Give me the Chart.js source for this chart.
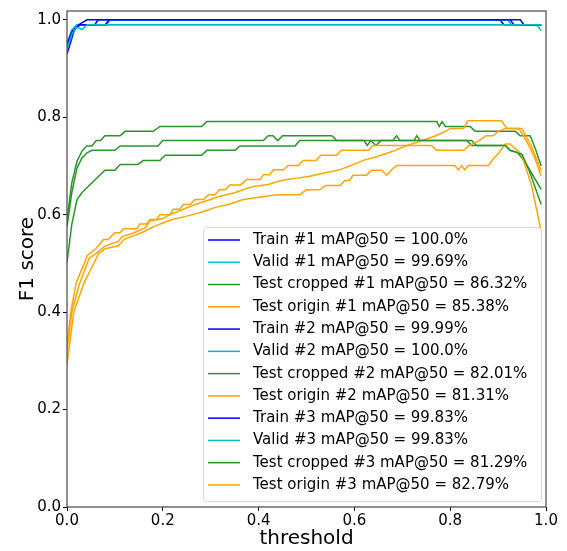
<!DOCTYPE html>
<html lang="en">
<head>
  <meta charset="UTF-8">
  <title>F1 score vs threshold</title>
  <script src="https://cdn.jsdelivr.net/npm/chart.js"></script>
  <style>
    html, body { margin: 0; padding: 0; background: #fff; }
  </style>
</head>
<body>
  <canvas id="myChart" width="567" height="551"></canvas>

  <script>
    // axis ticks
    const xTicks = [0, 0.2, 0.4, 0.6, 0.8, 1.0];
    const yTicks = [0, 0.2, 0.4, 0.6, 0.8, 1.0];

    // [threshold, F1] pairs
    const train1 = [[0,0.93],[0.008,0.955],[0.017,0.985],[0.03,0.993],[0.042,1.0],[0.904,1.0],[0.912,0.99],[0.99,0.99]];
    const valid1 = [[0,0.945],[0.01,0.975],[0.02,0.99],[0.98,0.99],[0.99,0.978]];
    const cropped1 = [[0,0.59],[0.01,0.665],[0.021,0.71],[0.031,0.73],[0.041,0.741],[0.052,0.741],[0.061,0.752],[0.07,0.752],
      [0.079,0.762],[0.111,0.762],[0.121,0.771],[0.18,0.771],[0.194,0.781],[0.281,0.781],[0.292,0.791],[0.772,0.791],
      [0.777,0.781],[0.783,0.791],[0.79,0.781],[0.842,0.781],[0.852,0.771],[0.936,0.771],[0.946,0.762],[0.967,0.762],
      [0.978,0.735],[0.99,0.70]];
    const origin1 = [[0,0.32],[0.01,0.40],[0.025,0.455],[0.046,0.51],[0.06,0.52],[0.08,0.536],[0.107,0.545],[0.115,0.555],
      [0.14,0.563],[0.163,0.573],[0.173,0.587],[0.2,0.592],[0.215,0.600],[0.24,0.61],[0.26,0.618],[0.28,0.625],
      [0.3,0.631],[0.319,0.638],[0.35,0.645],[0.37,0.652],[0.389,0.658],[0.42,0.662],[0.44,0.668],[0.459,0.672],
      [0.48,0.675],[0.507,0.679],[0.53,0.684],[0.55,0.688],[0.569,0.692],[0.59,0.70],[0.62,0.712],[0.65,0.72],
      [0.68,0.73],[0.71,0.742],[0.74,0.752],[0.77,0.762],[0.79,0.771],[0.80,0.777],[0.828,0.777],[0.837,0.793],
      [0.907,0.793],[0.918,0.777],[0.949,0.777],[0.97,0.74],[0.99,0.69]];

    const train2 = [[0,0.945],[0.01,0.97],[0.02,0.985],[0.03,0.99],[0.058,0.99],[0.065,1.0],[0.925,1.0],[0.933,0.99],[0.99,0.99]];
    const valid2 = [[0,0.95],[0.01,0.98],[0.025,0.99],[0.083,0.99],[0.09,1.0],[0.92,1.0],[0.928,0.99],[0.99,0.99]];
    const cropped2 = [[0,0.575],[0.01,0.645],[0.021,0.696],[0.031,0.716],[0.042,0.727],[0.052,0.732],[0.1,0.732],[0.111,0.741],
      [0.19,0.741],[0.2,0.752],[0.41,0.752],[0.42,0.762],[0.43,0.762],[0.44,0.752],[0.45,0.762],[0.553,0.762],
      [0.563,0.752],[0.62,0.752],[0.627,0.742],[0.634,0.752],[0.645,0.742],[0.655,0.752],[0.845,0.752],[0.855,0.742],
      [0.915,0.742],[0.925,0.732],[0.94,0.728],[0.955,0.71],[0.97,0.685],[0.99,0.652]];
    const origin2 = [[0,0.292],[0.014,0.40],[0.036,0.461],[0.066,0.52],[0.08,0.53],[0.107,0.536],[0.12,0.55],[0.14,0.557],
      [0.16,0.565],[0.18,0.575],[0.2,0.583],[0.22,0.59],[0.25,0.597],[0.28,0.605],[0.31,0.615],[0.34,0.622],
      [0.368,0.631],[0.438,0.641],[0.486,0.641],[0.50,0.651],[0.528,0.651],[0.54,0.66],[0.57,0.66],[0.58,0.67],
      [0.59,0.67],[0.597,0.681],[0.625,0.681],[0.636,0.691],[0.657,0.691],[0.667,0.681],[0.677,0.691],[0.688,0.701],
      [0.81,0.701],[0.817,0.692],[0.824,0.701],[0.83,0.692],[0.838,0.701],[0.88,0.701],[0.89,0.715],[0.9,0.725],
      [0.915,0.745],[0.925,0.745],[0.949,0.724],[0.97,0.66],[0.99,0.565]];

    const train3 = [[0,0.95],[0.01,0.975],[0.025,0.99],[0.08,0.99],[0.088,1.0],[0.946,1.0],[0.954,0.99],[0.99,0.99]];
    const valid3 = [[0,0.94],[0.01,0.97],[0.02,0.985],[0.031,0.98],[0.042,0.99],[0.99,0.99]];
    const cropped3 = [[0,0.502],[0.01,0.58],[0.021,0.631],[0.031,0.645],[0.079,0.691],[0.1,0.691],[0.111,0.703],[0.148,0.703],
      [0.159,0.711],[0.194,0.711],[0.205,0.722],[0.281,0.722],[0.292,0.732],[0.351,0.732],[0.361,0.741],[0.476,0.741],
      [0.486,0.752],[0.68,0.752],[0.688,0.762],[0.695,0.752],[0.725,0.752],[0.73,0.762],[0.737,0.752],[0.835,0.752],
      [0.845,0.742],[0.915,0.742],[0.925,0.732],[0.95,0.724],[0.965,0.69],[0.99,0.621]];
    const origin3 = [[0,0.33],[0.008,0.40],[0.019,0.46],[0.036,0.50],[0.042,0.516],[0.06,0.53],[0.076,0.549],[0.086,0.549],
      [0.1,0.563],[0.111,0.563],[0.118,0.571],[0.146,0.571],[0.152,0.581],[0.166,0.581],[0.173,0.590],[0.187,0.590],
      [0.194,0.600],[0.215,0.600],[0.222,0.611],[0.235,0.611],[0.243,0.621],[0.257,0.621],[0.267,0.631],[0.285,0.631],
      [0.295,0.641],[0.309,0.641],[0.318,0.651],[0.33,0.651],[0.34,0.661],[0.362,0.661],[0.375,0.672],[0.403,0.672],
      [0.41,0.682],[0.423,0.682],[0.431,0.692],[0.452,0.692],[0.462,0.701],[0.483,0.701],[0.493,0.711],[0.52,0.711],
      [0.53,0.722],[0.563,0.722],[0.573,0.732],[0.629,0.732],[0.639,0.742],[0.761,0.742],[0.771,0.732],[0.828,0.732],
      [0.84,0.742],[0.86,0.752],[0.875,0.762],[0.89,0.762],[0.9,0.771],[0.915,0.777],[0.943,0.777],[0.96,0.75],
      [0.975,0.72],[0.99,0.68]];

    const seriesData = [train1, valid1, cropped1, origin1, train2, valid2, cropped2, origin2, train3, valid3, cropped3, origin3];
    const seriesLabels = [
      'Train #1 mAP@50 = 100.0%', 'Valid #1 mAP@50 = 99.69%', 'Test cropped #1 mAP@50 = 86.32%', 'Test origin #1 mAP@50 = 85.38%',
      'Train #2 mAP@50 = 99.99%', 'Valid #2 mAP@50 = 100.0%', 'Test cropped #2 mAP@50 = 82.01%', 'Test origin #2 mAP@50 = 81.31%',
      'Train #3 mAP@50 = 99.83%', 'Valid #3 mAP@50 = 99.83%', 'Test cropped #3 mAP@50 = 81.29%', 'Test origin #3 mAP@50 = 82.79%'
    ];
    const seriesColors = ['#0000ff', '#00bfbf', '#2a952a', '#ffa500'];

    const FONT = '"DejaVu Sans", sans-serif';

    // box around the plot + legend inside the axes (matplotlib style)
    const frameAndLegend = {
      id: 'frameAndLegend',
      afterDatasetsDraw(chart) {
        const ctx = chart.ctx;
        const a = chart.chartArea;
        ctx.save();
        ctx.strokeStyle = '#555';
        ctx.lineWidth = 1.3;
        ctx.strokeRect(a.left, a.top, a.right - a.left, a.bottom - a.top);

        const x0 = 203.5, y0 = 227.5, w = 338, h = 274;
        ctx.beginPath();
        ctx.roundRect(x0, y0, w, h, 3);
        ctx.fillStyle = 'rgba(255,255,255,0.85)';
        ctx.fill();
        ctx.strokeStyle = '#d6d6d6';
        ctx.lineWidth = 1;
        ctx.stroke();

        ctx.font = '15px ' + FONT;
        ctx.textBaseline = 'middle';
        ctx.fillStyle = '#000';
        seriesLabels.forEach((label, i) => {
          const y = 240 + i * 22.27;
          ctx.beginPath();
          ctx.strokeStyle = seriesColors[i % 4];
          ctx.lineWidth = 1.5;
          ctx.moveTo(208, y);
          ctx.lineTo(240, y);
          ctx.stroke();
          ctx.fillText(label, 253, y);
        });
        ctx.restore();
      }
    };

    const datasets = seriesData.map((pts, i) => ({
      label: seriesLabels[i],
      data: pts.map(p => ({ x: p[0], y: p[1] })),
      borderColor: seriesColors[i % 4],
      borderWidth: 1.5,
      pointRadius: 0,
      fill: false,
      tension: 0,
      order: seriesData.length - i
    }));

    const ctx = document.getElementById('myChart').getContext('2d');
    new Chart(ctx, {
      type: 'line',
      data: { datasets: datasets },
      plugins: [frameAndLegend],
      options: {
        responsive: false,
        animation: false,
        layout: { padding: { top: 8, right: 21, left: 0, bottom: 0 } },
        plugins: { legend: { display: false }, tooltip: { enabled: false } },
        scales: {
          x: {
            type: 'linear',
            min: 0,
            max: 1,
            afterBuildTicks: scale => { scale.ticks = xTicks.map(v => ({ value: v })); },
            afterFit: scale => { scale.height = 44; },
            grid: { display: true, drawOnChartArea: false, drawTicks: true, tickLength: 4, color: '#000' },
            border: { display: false },
            ticks: {
              color: '#000',
              font: { family: FONT, size: 15 },
              padding: 1,
              maxRotation: 0,
              callback: v => v.toFixed(1)
            },
            title: {
              display: true,
              text: 'threshold',
              color: '#000',
              font: { family: FONT, size: 20 },
              padding: { top: 0, bottom: 0 }
            }
          },
          y: {
            type: 'linear',
            min: 0,
            max: 1.018,
            afterBuildTicks: scale => { scale.ticks = yTicks.map(v => ({ value: v })); },
            afterFit: scale => { scale.width = 67; },
            grid: { display: true, drawOnChartArea: false, drawTicks: true, tickLength: 4, color: '#000' },
            border: { display: false },
            ticks: {
              color: '#000',
              font: { family: FONT, size: 15 },
              padding: 2,
              callback: v => v.toFixed(1)
            },
            title: {
              display: true,
              text: 'F1 score',
              color: '#000',
              font: { family: FONT, size: 20 },
              padding: { top: 16, bottom: 0 }
            }
          }
        }
      }
    });
  </script>
</body>
</html>
